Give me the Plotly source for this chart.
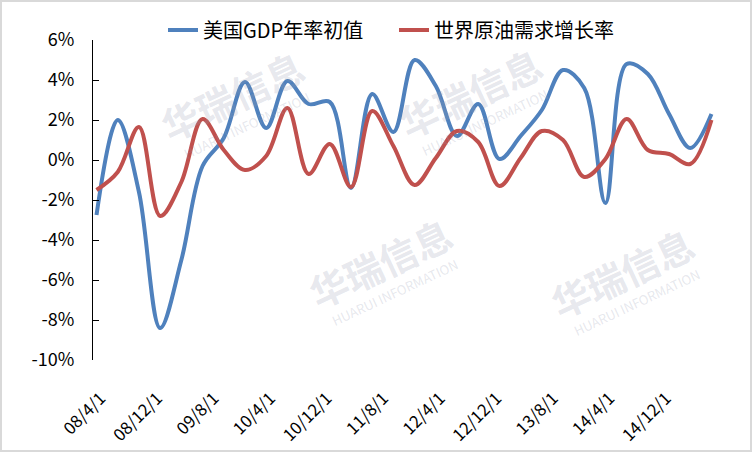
import plotly.graph_objects as go
import pandas as pd

# ---- data ----
dates = ['2008-04-01', '2008-07-01', '2008-10-01', '2009-01-01', '2009-04-01', '2009-07-01',
         '2009-10-01', '2010-01-01', '2010-04-01', '2010-07-01', '2010-10-01', '2011-01-01',
         '2011-04-01', '2011-07-01', '2011-10-01', '2012-01-01', '2012-04-01', '2012-07-01',
         '2012-10-01', '2013-01-01', '2013-04-01', '2013-07-01', '2013-10-01', '2014-01-01',
         '2014-04-01', '2014-07-01', '2014-10-01', '2015-01-01', '2015-04-01', '2015-07-01']
gdp = [-2.75, 2.0, -1.6, -8.4, -5.0, -0.3, 1.1, 3.9, 1.6, 3.95, 2.8, 2.9, -1.4, 3.3, 1.4,
       5.0, 3.7, 1.2, 2.8, 0.05, 1.2, 2.5, 4.5, 3.6, -2.15, 4.8, 4.3, 2.3, 0.6, 2.3]
oil = [-1.5, -0.6, 1.65, -2.8, -1.1, 2.05, 0.5, -0.5, 0.2, 2.6, -0.7, 0.8, -1.35, 2.45, 0.7,
       -1.25, 0.1, 1.45, 0.9, -1.3, 0.1, 1.45, 1.0, -0.85, 0.05, 2.05, 0.5, 0.3, -0.2, 2.0]
tick_dates = ['2008-04-01', '2008-12-01', '2009-08-01', '2010-04-01', '2010-12-01', '2011-08-01',
              '2012-04-01', '2012-12-01', '2013-08-01', '2014-04-01', '2014-12-01', '2015-08-01']
tick_labels = ['08/4/1', '08/12/1', '09/8/1', '10/4/1', '10/12/1', '11/8/1',
               '12/4/1', '12/12/1', '13/8/1', '14/4/1', '14/12/1', '']
y_vals = [6, 4, 2, 0, -2, -4, -6, -8, -10]
y_labels = ['6%', '4%', '2%', '0%', '-2%', '-4%', '-6%', '-8%', '-10%']
names = ['美国GDP年率初值', '世界原油需求增长率']


def month_index(d):
    t = pd.Timestamp(d)
    return (t.year - 2008) * 12 + t.month - 4


x = [month_index(d) for d in dates]
tick_pos = [month_index(d) - 0.5 for d in tick_dates]
label_pos = [p + 1.1 for p in tick_pos]
x_range = [tick_pos[0], tick_pos[-1]]

FONT = 'Noto Sans CJK SC'

fig = go.Figure()
fig.add_trace(go.Scatter(x=x, y=gdp, name=names[0], mode='lines',
                         line=dict(color='#4f81bd', width=4, shape='spline', smoothing=1.0)))
fig.add_trace(go.Scatter(x=x, y=oil, name=names[1], mode='lines',
                         line=dict(color='#c0504d', width=4, shape='spline', smoothing=1.0)))

# watermarks
wm = [(232, 95), (470, 92), (380, 262), (622, 272)]
annotations = []
for (px, py) in wm:
    annotations.append(dict(xref='paper', yref='paper', xanchor='center', yanchor='middle',
                            x=(px - 93) / 622, y=1 - (py - 40) / 320,
                            text='<b>华瑞信息</b>', showarrow=False, textangle=-25,
                            font=dict(family=FONT, size=38, color='rgba(150,158,178,0.24)')))
    annotations.append(dict(xref='paper', yref='paper', xanchor='center', yanchor='middle',
                            x=(px - 93 + 14) / 622, y=1 - (py - 40 + 30) / 320,
                            text='HUARUI INFORMATION', showarrow=False, textangle=-25,
                            font=dict(family=FONT, size=13, color='rgba(150,158,178,0.24)')))

fig.update_layout(
    width=752, height=452,
    margin=dict(l=93, r=37, t=40, b=92, autoexpand=False),
    paper_bgcolor='white', plot_bgcolor='rgba(0,0,0,0)',
    showlegend=True,
    legend=dict(orientation='h', xanchor='center', yanchor='middle',
                x=(394 - 93) / 622, y=1 + 10 / 320,
                font=dict(family=FONT, size=20, color='#000000'),
                entrywidth=186, entrywidthmode='pixels', bgcolor='rgba(0,0,0,0)'),
    xaxis=dict(range=x_range, tickmode='array', tickvals=label_pos, ticktext=tick_labels,
               tickangle=-45, showgrid=False, zeroline=False, showline=False, ticks='',
               ticklabelstandoff=24, automargin=False,
               tickfont=dict(family=FONT, size=17, color='#000000')),
    xaxis2=dict(range=x_range, overlaying='x', anchor='free', position=10 / 16, side='bottom',
                tickmode='array', tickvals=tick_pos, showticklabels=False,
                ticks='inside', ticklen=6, tickcolor='#000000', tickwidth=1,
                showline=True, linecolor='#000000', linewidth=1, showgrid=False, zeroline=False),
    yaxis=dict(range=[-10, 6], tickmode='array', tickvals=y_vals, ticktext=y_labels,
               showgrid=False, zeroline=False, showline=True, linecolor='#000000', linewidth=1,
               ticks='inside', ticklen=6, tickcolor='#000000',
               ticklabelstandoff=14, automargin=False,
               tickfont=dict(family=FONT, size=18, color='#000000')),
    annotations=annotations,
    shapes=[dict(type='rect', xref='paper', yref='paper',
                 x0=-93 / 622, x1=1 + 37 / 622, y0=-92 / 320, y1=1 + 40 / 320,
                 line=dict(color='#d9d9d9', width=4), fillcolor='rgba(0,0,0,0)', layer='above')],
)

fig.write_html('out.html')
